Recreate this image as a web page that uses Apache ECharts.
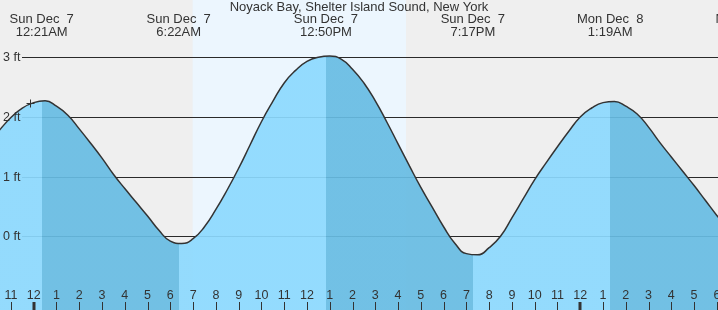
<!DOCTYPE html>
<html><head><meta charset="utf-8">
<script src="https://cdn.jsdelivr.net/npm/echarts@6/dist/echarts.min.js"></script>
<style>html,body{margin:0;padding:0;background:#efefef}#c{width:718px;height:310px}</style>
</head><body><div id="c"></div>
<script>
const chartTitle = 'Noyack Bay, Shelter Island Sound, New York';
// hours after Sun Dec 7 00:00 (half-hourly), and tide height (ft)
const tideHours = [-2, -1.5, -1, -0.5, 0, 0.5, 1, 1.5, 2, 2.5, 3, 3.5, 4, 4.5, 5, 5.5, 6, 6.5, 7, 7.5, 8, 8.5, 9, 9.5, 10, 10.5, 11, 11.5, 12, 12.5, 13, 13.5, 14, 14.5, 15, 15.5, 16, 16.5, 17, 17.5, 18, 18.5, 19, 19.5, 20, 20.5, 21, 21.5, 22, 22.5, 23, 23.5, 24, 24.5, 25, 25.5, 26, 26.5, 27, 27.5, 28, 28.5, 29, 29.5, 30, 30.5];
const tideFeet  = [1.55, 1.78, 1.99, 2.15, 2.24, 2.27, 2.18, 2.03, 1.80, 1.56, 1.31, 1.04, 0.80, 0.57, 0.34, 0.10, -0.08, -0.12, -0.04, 0.16, 0.45, 0.78, 1.14, 1.53, 1.92, 2.26, 2.57, 2.78, 2.93, 3.00, 3.02, 2.97, 2.80, 2.57, 2.27, 1.92, 1.55, 1.18, 0.82, 0.49, 0.16, -0.12, -0.29, -0.31, -0.19, 0.00, 0.31, 0.63, 0.95, 1.23, 1.50, 1.76, 2.00, 2.15, 2.24, 2.26, 2.18, 2.05, 1.83, 1.57, 1.33, 1.09, 0.85, 0.60, 0.35, 0.12];
const eventHours = [0.35, 6.367, 12.833, 19.283, 25.317, 31.4];
const eventKinds = ['H', 'L', 'H', 'L', 'H', 'L'];
const eventDays  = ['Sun Dec  7', 'Sun Dec  7', 'Sun Dec  7', 'Sun Dec  7', 'Mon Dec  8', 'Mon Dec  8'];
const eventClock = ['12:21AM', '6:22AM', '12:50PM', '7:17PM', '1:19AM', '7:24AM'];
const daylightHours = [6.98, 16.35];
const hourTicks  = [-1, 0, 1, 2, 3, 4, 5, 6, 7, 8, 9, 10, 11, 12, 13, 14, 15, 16, 17, 18, 19, 20, 21, 22, 23, 24, 25, 26, 27, 28, 29, 30];
const hourLabels = ['11', '12', '1', '2', '3', '4', '5', '6', '7', '8', '9', '10', '11', '12', '1', '2', '3', '4', '5', '6', '7', '8', '9', '10', '11', '12', '1', '2', '3', '4', '5', '6'];
const footTicks  = [0, 1, 2, 3];
const footLabels = ['0 ft', '1 ft', '2 ft', '3 ft'];
const markerPoint = [-0.16, 2.24];
const xRange = [-1.48, 30.05];
const yRange = [-1.235, 3.96];

const FONT = '"Liberation Sans", Arial, sans-serif';
const TEXT = '#333';
const RISE = '#8CD9FE';
const FALL = '#67BCE3';

const tideData = tideHours.map((t, i) => [t, tideFeet[i]]);

// rising/falling pieces bounded by the tide events
const pieces = [];
let prev = null;
eventHours.forEach((t, i) => {
  const p = { color: eventKinds[i] === 'H' ? RISE : FALL };
  if (prev !== null) p.gte = prev;
  p.lt = t;
  pieces.push(p);
  prev = t;
});
pieces.push({ gte: prev, color: eventKinds[eventKinds.length - 1] === 'H' ? FALL : RISE });

const chart = echarts.init(document.getElementById('c'), null, { renderer: 'canvas' });
chart.setOption({
  animation: false,
  backgroundColor: '#efefef',
  title: {
    text: chartTitle, left: 'center', top: 1, padding: 0,
    textStyle: { fontSize: 13, fontWeight: 'normal', color: TEXT, fontFamily: FONT }
  },
  grid: { left: 0, right: 0, top: 0, bottom: 0 },
  xAxis: { type: 'value', min: xRange[0], max: xRange[1], show: false },
  yAxis: { type: 'value', min: yRange[0], max: yRange[1], show: false },
  visualMap: { type: 'piecewise', show: false, dimension: 0, seriesIndex: 2, pieces: pieces },
  series: [
    { // daylight band
      type: 'custom', z: 0, silent: true, data: [daylightHours],
      renderItem: (params, api) => {
        const a = api.coord([api.value(0), yRange[1]]);
        const b = api.coord([api.value(1), yRange[0]]);
        return { type: 'rect', shape: { x: a[0], y: a[1], width: b[0] - a[0], height: b[1] - a[1] }, style: { fill: '#ECF6FE' } };
      }
    },
    { // horizontal foot lines
      type: 'custom', z: 1, silent: true, data: footTicks.map(v => [xRange[0], v]),
      renderItem: (params, api) => {
        const c = api.coord([xRange[0], api.value(1)]);
        const y = Math.round(c[1]) + 0.5;
        return { type: 'line', shape: { x1: 22, y1: y, x2: params.coordSys.x + params.coordSys.width, y2: y }, style: { stroke: '#2a2a2a', lineWidth: 1 } };
      }
    },
    { // tide area
      type: 'line', z: 2, silent: true, data: tideData, smooth: 0.5, showSymbol: false,
      lineStyle: { width: 0 },
      areaStyle: { opacity: 0.92, origin: 'start' }
    },
    { // tide curve
      type: 'line', z: 3, silent: true, data: tideData, smooth: 0.5, showSymbol: false,
      lineStyle: { color: '#333', width: 1.5 }
    },
    { // foot labels
      type: 'custom', z: 5, silent: true, data: footTicks.map((v, i) => [xRange[0], v, i]),
      renderItem: (params, api) => {
        const c = api.coord([xRange[0], api.value(1)]);
        return { type: 'text', style: { text: footLabels[api.value(2)], x: 3, y: c[1] + 0.5, align: 'left', verticalAlign: 'middle', fill: TEXT, font: '12.5px ' + FONT } };
      }
    },
    { // hour ticks and labels
      type: 'custom', z: 5, silent: true, data: hourTicks.map((t, i) => [t, yRange[0], i]),
      renderItem: (params, api) => {
        const t = api.value(0);
        const c = api.coord([t, yRange[0]]);
        const midnight = ((t % 24) + 24) % 24 === 0;
        const x = midnight ? Math.round(c[0]) : Math.round(c[0]) + 0.5;
        return { type: 'group', children: [
          { type: 'line', shape: { x1: x, y1: c[1] - 8, x2: x, y2: c[1] }, style: { stroke: '#333', lineWidth: midnight ? 3 : 1 } },
          { type: 'text', style: { text: hourLabels[api.value(2)], x: c[0], y: c[1] - 14, align: 'center', verticalAlign: 'middle', fill: TEXT, font: '12.5px ' + FONT } }
        ] };
      }
    },
    { // event labels
      type: 'custom', z: 5, silent: true, data: eventHours.map((t, i) => [t, yRange[1], i]),
      renderItem: (params, api) => {
        const c = api.coord([api.value(0), yRange[1]]);
        const i = api.value(2);
        return { type: 'group', children: [
          { type: 'text', style: { text: eventDays[i], x: c[0], y: 19.5, align: 'center', verticalAlign: 'middle', fill: TEXT, font: '13px ' + FONT } },
          { type: 'text', style: { text: eventClock[i], x: c[0], y: 32, align: 'center', verticalAlign: 'middle', fill: TEXT, font: '13px ' + FONT } }
        ] };
      }
    },
    { // current-time marker
      type: 'custom', z: 6, silent: true, data: [markerPoint],
      renderItem: (params, api) => {
        const c = api.coord([api.value(0), api.value(1)]);
        const x = Math.round(c[0]) + 0.5, y = Math.round(c[1]) + 0.5;
        return { type: 'group', children: [
          { type: 'line', shape: { x1: x - 4, y1: y, x2: x + 4, y2: y }, style: { stroke: '#333', lineWidth: 1 } },
          { type: 'line', shape: { x1: x, y1: y - 4, x2: x, y2: y + 4 }, style: { stroke: '#333', lineWidth: 1 } }
        ] };
      }
    }
  ]
});
</script>
</body></html>
